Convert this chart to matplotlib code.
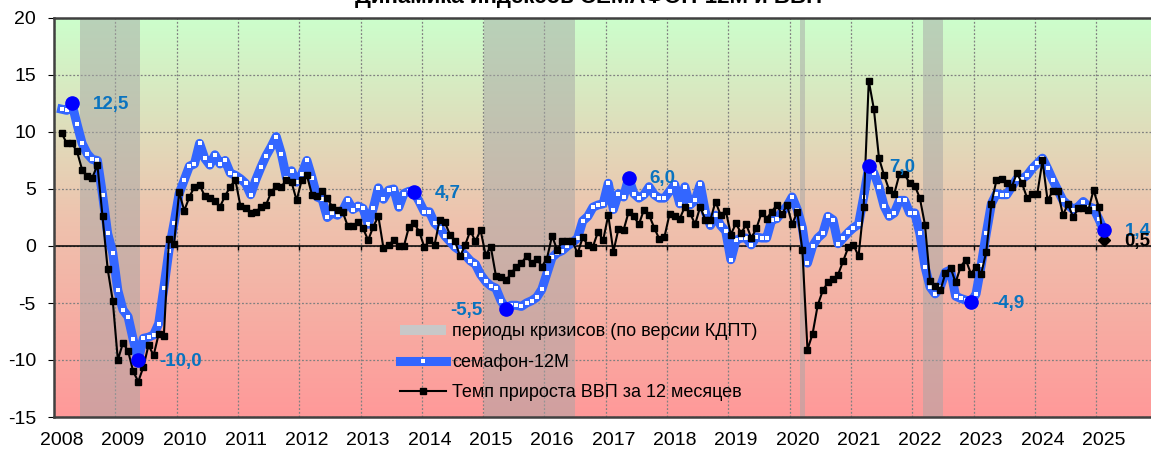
import numpy as np
import matplotlib
matplotlib.use("Agg")
import matplotlib.pyplot as plt
from matplotlib.colors import LinearSegmentedColormap
from matplotlib.lines import Line2D
from matplotlib.patches import Patch

plt.rcParams['font.family'] = ['Liberation Sans', 'DejaVu Sans']
plt.rcParams['axes.unicode_minus'] = False

# monthly series, Feb 2008 .. Feb 2025
start_year = 2008
start_month = 2

semafon = [
    12.0, 11.9, 12.5, 10.7, 9.0, 8.1, 7.6, 7.5, 4.5, 1.1,
    -0.6, -3.9, -5.6, -6.2, -8.2, -10.0, -8.1, -8.0, -7.8, -6.8,
    -3.7, -0.4, 2.0, 4.6, 5.8, 7.0, 7.2, 9.0, 7.7, 7.1,
    8.0, 7.2, 7.5, 6.4, 6.2, 5.9, 5.5, 4.5, 5.8, 6.9,
    7.9, 8.7, 9.6, 8.1, 6.0, 6.6, 5.6, 6.3, 7.5, 6.0,
    4.3, 4.1, 2.5, 2.9, 2.7, 3.1, 4.0, 3.2, 3.5, 3.3,
    1.9, 3.3, 5.1, 4.1, 4.9, 5.0, 3.4, 4.6, 4.8, 4.7,
    3.9, 3.0, 3.0, 2.0, 1.6, 0.9, 0.4, -0.1, -0.4, -0.8,
    -1.3, -1.6, -2.5, -3.1, -3.5, -3.7, -4.8, -5.5, -5.2, -5.2,
    -5.3, -5.0, -4.8, -4.5, -3.8, -2.4, -1.0, -0.6, -0.4, 0.0,
    0.3, 0.7, 2.2, 2.6, 3.4, 3.6, 3.7, 5.5, 3.2, 4.6,
    4.3, 6.0, 4.6, 4.2, 4.5, 5.2, 4.5, 4.2, 4.2, 4.8,
    5.4, 3.7, 5.2, 3.6, 4.0, 5.4, 3.0, 1.8, 2.7, 1.8,
    1.3, -1.2, 0.5, 0.7, 0.7, 0.1, 0.8, 0.7, 0.7, 2.3,
    2.4, 3.0, 3.5, 4.3, 3.2, 1.6, -1.5, 0.0, 0.7, 1.1,
    2.6, 2.3, 0.2, 0.7, 1.2, 1.6, 1.9, 4.3, 7.0, 6.4,
    5.2, 3.5, 2.6, 2.9, 4.0, 4.0, 2.9, 2.9, 1.1, -1.8,
    -3.6, -4.2, -3.6, -2.3, -2.1, -4.4, -4.6, -4.75, -4.9, -4.2,
    -1.7, 1.1, 3.7, 4.6, 4.5, 4.5, 5.2, 5.9, 5.9, 6.2,
    6.8, 7.25, 7.7, 6.8, 5.8, 4.9, 4.0, 3.6, 3.2, 3.45,
    3.9, 3.45, 3.3, 2.4, 1.4,
]

gdp = [
    9.9, 9.0, 9.0, 8.3, 6.7, 6.1, 6.0, 7.1, 2.6, -2.0,
    -4.8, -10.0, -8.5, -9.2, -11.0, -11.9, -10.6, -8.7, -9.6, -7.7,
    -7.9, 0.6, 0.2, 4.7, 3.1, 4.3, 5.2, 5.35, 4.4, 4.2,
    3.95, 3.45, 4.4, 5.2, 5.8, 3.5, 3.3, 2.9, 3.0, 3.4,
    3.6, 4.7, 5.3, 5.2, 5.8, 5.6, 4.0, 5.8, 6.2, 4.5,
    4.4, 4.8, 4.2, 3.4, 3.2, 3.0, 1.75, 1.75, 2.1, 1.55,
    0.5, 1.7, 2.6, -0.2, 0.1, 0.5, 0.0, 0.0, 1.7, 2.0,
    1.25, -0.1, 0.5, 0.1, 2.3, 2.1, 1.0, 0.4, -0.9, 0.1,
    1.35, 0.4, 1.4, -0.8, -0.05, -2.6, -2.7, -3.0, -2.4, -1.8,
    -1.5, -0.9, -1.5, -1.1, -1.8, -1.1, 0.9, -0.35, 0.4, 0.4,
    0.4, -0.65, 0.75, 0.1, -0.05, 1.25, 0.5, 2.7, -0.5, 1.5,
    1.4, 3.0, 2.6, 1.9, 3.2, 2.7, 1.6, 0.6, 0.8, 2.8,
    2.6, 2.4, 3.45, 2.9, 1.9, 3.45, 2.3, 2.3, 3.9, 2.7,
    3.1, 1.0, 2.0, 1.1, 1.9, 0.7, 1.55, 2.9, 2.4, 3.0,
    3.6, 2.8, 3.6, 1.9, 3.0, -0.35, -9.1, -7.7, -5.2, -3.9,
    -3.2, -2.9, -2.5, -1.3, -0.1, 0.1, -0.9, 3.45, 14.5, 12.0,
    7.7, 6.2, 4.9, 4.6, 6.3, 6.3, 5.5, 5.3, 4.2, 1.85,
    -3.1, -3.55, -3.9, -2.4, -1.9, -3.2, -1.8, -1.2, -2.45, -1.8,
    -2.45, -0.5, 3.7, 5.8, 5.9, 5.5, 5.2, 6.4, 5.5, 4.2,
    4.6, 4.6, 7.5, 4.0, 4.8, 4.85, 2.7, 3.7, 2.5, 3.3,
    3.3, 3.2, 4.9, 3.45, 0.5,
]

# crisis periods (KDPT), fractional years
crisis_periods = [(2008.42, 2009.41), (2015.01, 2016.50), (2020.17, 2020.25), (2022.17, 2022.50)]

# months where the semafon value is labelled
marked = [(2008, 4), (2009, 5), (2013, 11), (2015, 5), (2017, 5), (2021, 4), (2022, 12), (2025, 2)]
label_left = [(2015, 5)]

year_labels = list(range(2008, 2026))
y_ticks = list(range(-15, 21, 5))

BLUE = '#3366ff'
LABEL_BLUE = '#0a73bf'

def month_pos(i):
    # i-th month after the start month -> fractional year at the middle of the month
    k = start_month - 1 + i
    return start_year + k // 12 + ((k % 12) + 0.5) / 12.0

x = np.array([month_pos(i) for i in range(len(semafon))])

fig = plt.figure(figsize=(11.51, 4.5), dpi=100)
ax = fig.add_axes([54 / 1151, 33 / 450, 1097 / 1151, 399 / 450])
xmin, xmax = 2008.0, 2008.0 + 1097 / 61.3
ymin, ymax = -15, 20

# background gradient green -> red
cmap = LinearSegmentedColormap.from_list('bg', ['#ff9999', '#eec3ae', '#ccffcc'])
grad = np.linspace(0, 1, 256).reshape(-1, 1)
ax.imshow(grad, extent=[xmin, xmax, ymin, ymax], origin='lower', aspect='auto',
          cmap=cmap, zorder=-1, interpolation='bilinear')

for a, b in crisis_periods:
    ax.axvspan(a, b, color='#a6a6a6', alpha=0.5, lw=0, zorder=0.6)

ax.set_axisbelow(True)
ax.set_yticks(y_ticks)
ax.set_xticks(year_labels, minor=True)
ax.set_xticks([yr + 0.125 for yr in year_labels])
ax.set_xticklabels([str(yr) for yr in year_labels])
ax.grid(True, which='major', axis='y', linestyle=(0, (1.5, 1.5)), color='#808080', lw=0.9)
ax.grid(True, which='minor', axis='x', linestyle=(0, (1.5, 1.5)), color='#808080', lw=0.9)
ax.tick_params(axis='x', which='both', length=0, labelsize=14, pad=10.5)
ax.tick_params(axis='y', length=4, direction='out', labelsize=14, pad=9)

ax.axhline(0, color='black', lw=1.1, zorder=1)
ax.vlines(year_labels[1:], -0.35, 0, color='black', lw=1, zorder=1)

ax.plot(x, semafon, color=BLUE, lw=6.5, solid_joinstyle='round', marker='s', ms=3,
        mfc='white', mec='white', mew=0, zorder=3)
ax.plot(x, gdp, color='black', lw=1.5, marker='s', ms=4.5, markevery=slice(0, len(gdp) - 1), zorder=4)
ax.plot(x[-1], gdp[-1], marker='D', color='black', ms=6, zorder=5)

for yr, mo in marked:
    i = (yr - start_year) * 12 + mo - start_month
    ax.plot(x[i], semafon[i], 'o', color='#0000ff', ms=9.5, zorder=6)
    txt = f'{semafon[i]:.1f}'.replace('.', ',')
    if (yr, mo) in label_left:
        ax.annotate(txt, (x[i], semafon[i]), xytext=(-17, -1), textcoords='offset points',
                    ha='right', va='center', color=LABEL_BLUE, fontsize=13.5, fontweight='bold', zorder=7)
    else:
        ax.annotate(txt, (x[i], semafon[i]), xytext=(15, -1), textcoords='offset points',
                    ha='left', va='center', color=LABEL_BLUE, fontsize=13.5, fontweight='bold', zorder=7)
ax.annotate(f'{gdp[-1]:.1f}'.replace('.', ','), (x[-1], gdp[-1]), xytext=(15, -1),
            textcoords='offset points', ha='left', va='center', color='black',
            fontsize=13.5, fontweight='bold', zorder=7)

ax.set_xlim(xmin, xmax)
ax.set_ylim(ymin, ymax)
for side in ['left', 'top', 'bottom']:
    ax.spines[side].set_color('#404040')
    ax.spines[side].set_linewidth(1.8)
ax.spines['right'].set_visible(False)

handles = [
    Patch(facecolor='#c8c8c8', edgecolor='none'),
    Line2D([], [], color=BLUE, lw=6.5, marker='s', ms=3, mfc='white', mec='white', mew=0),
    Line2D([], [], color='black', lw=1.5, marker='s', ms=4.5),
]
labels = ['периоды кризисов (по версии КДПТ)', 'семафон-12М', 'Темп прироста ВВП за 12 месяцев']
ax.legend(handles, labels, loc='upper left', bbox_to_anchor=(0.3154, 0.235), frameon=False,
          fontsize=13, handlelength=2.55, handletextpad=0.35, labelspacing=0.72,
          borderpad=0, borderaxespad=0, handleheight=0.5)

fig.text(0.511, 1 - 3 / 450, 'Динамика индексов СЕМАФОН-12М и ВВП', ha='center', va='baseline',
         fontsize=16, fontweight='bold')

fig.savefig('out.png', dpi=100)
